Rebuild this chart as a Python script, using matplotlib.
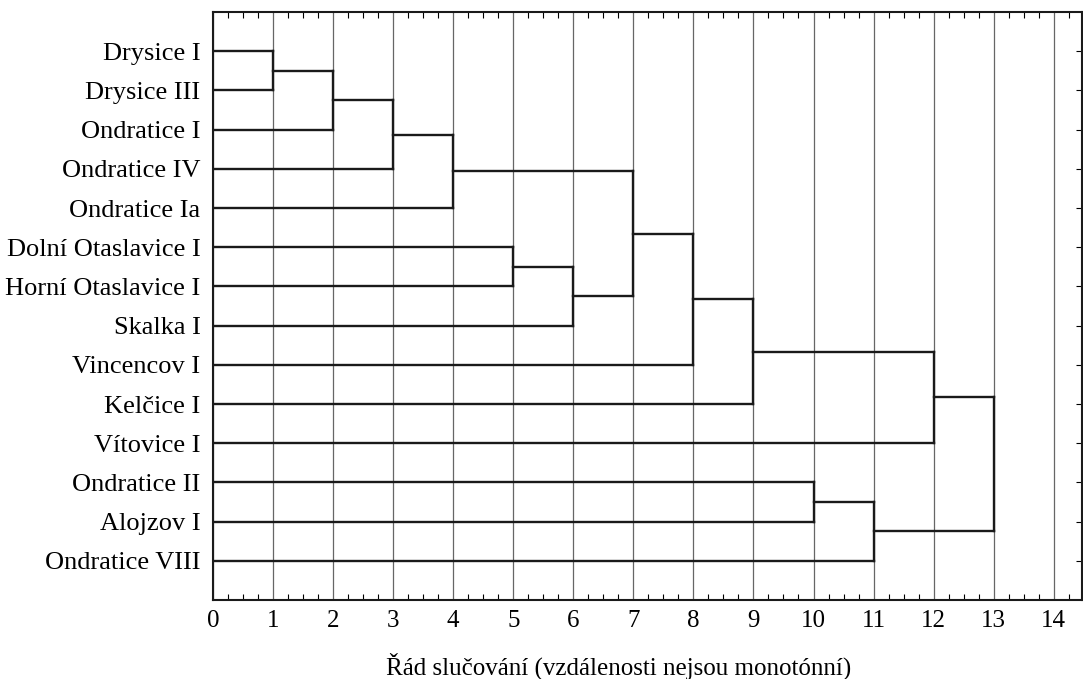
import numpy as np
import matplotlib
matplotlib.use("Agg")
from matplotlib import pyplot as plt
from matplotlib.ticker import MultipleLocator

plt.rcParams['font.family'] = ['Liberation Serif', 'DejaVu Serif']

# leaves, top to bottom
labels = ['Drysice I', 'Drysice III', 'Ondratice I', 'Ondratice IV', 'Ondratice Ia',
          'Dolní Otaslavice I', 'Horní Otaslavice I', 'Skalka I', 'Vincencov I',
          'Kelčice I', 'Vítovice I', 'Ondratice II', 'Alojzov I', 'Ondratice VIII']

# merges: (cluster a, cluster b, merge order); new clusters get ids 14, 15, ...
merge_a = [0, 14, 15, 16, 5, 18, 17, 20, 21, 11, 23, 22, 25]
merge_b = [1, 2, 3, 4, 6, 7, 19, 8, 9, 12, 13, 10, 24]
merge_h = [1, 2, 3, 4, 5, 6, 7, 8, 9, 10, 11, 12, 13]

fig = plt.figure(figsize=(10.83, 6.79), dpi=100)
ax = fig.add_axes([0.1967, 0.1163, 0.8023, 0.866])

n = len(labels)
pos = {i: i + 1 for i in range(n)}   # vertical position of each cluster
height = {i: 0 for i in range(n)}    # merge level of each cluster

lw = 1.7
for k, (a, b, h) in enumerate(zip(merge_a, merge_b, merge_h)):
    ya, yb = pos[a], pos[b]
    ax.plot([height[a], h], [ya, ya], color='#1a1a1a', lw=lw, solid_capstyle='projecting', zorder=3)
    ax.plot([height[b], h], [yb, yb], color='#1a1a1a', lw=lw, solid_capstyle='projecting', zorder=3)
    ax.plot([h, h], [ya, yb], color='#1a1a1a', lw=lw, solid_capstyle='projecting', zorder=3)
    new_id = n + k
    pos[new_id] = (ya + yb) / 2
    height[new_id] = h

ax.set_xlim(0, 14.47)
ax.set_ylim(15, 0)

ax.xaxis.set_major_locator(MultipleLocator(1))
ax.xaxis.set_minor_locator(MultipleLocator(0.25))
ax.set_xticks(range(0, 15))
ax.grid(axis='x', which='major', color='#666666', lw=0.9, zorder=1)

ax.set_yticks(range(1, n + 1))
ax.set_yticklabels(labels, fontsize=19)
ax.tick_params(axis='y', which='major', left=False, right=True, direction='in',
               length=4, width=0.8, pad=9)
ax.tick_params(axis='x', which='major', top=True, bottom=True, direction='in',
               length=0, labelsize=18, pad=7)
ax.tick_params(axis='x', which='minor', top=True, bottom=True, direction='in',
               length=4, width=0.8)

for side in ['left', 'right', 'top', 'bottom']:
    ax.spines[side].set_linewidth(1.5)
    ax.spines[side].set_color('#1a1a1a')

ax.set_xlabel('Řád slučování (vzdálenosti nejsou monotónní)', fontsize=18, va='center')
ax.xaxis.set_label_coords(0.467, -0.112)

fig.savefig('out.png', dpi=100)
